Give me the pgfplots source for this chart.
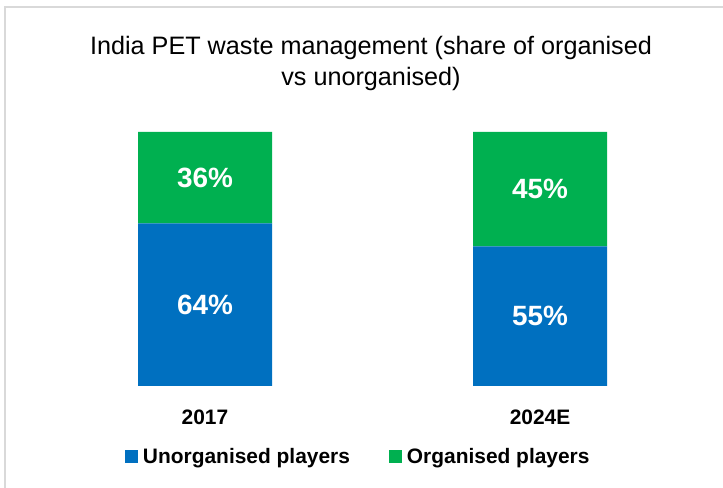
\documentclass[border=0pt]{standalone}
\usepackage{pgfplots}
\pgfplotsset{compat=1.18}
\usepackage{pgfplotstable}
\usepackage{fontspec}
\setmainfont{Liberation Sans}
\definecolor{cblue}{HTML}{0070C0}
\definecolor{cgreen}{HTML}{00B050}
\definecolor{frame}{HTML}{D9D9D9}
\pgfplotstableread{
x v
0 64
1 55
}\unorg
\pgfplotstableread{
x v
0 36
1 45
}\org
\begin{document}
\begin{tikzpicture}[x=1bp,y=1bp]
\useasboundingbox (0,0) rectangle (723,488);
\fill[white] (0,0) rectangle (723,488);
\draw[frame, line width=1.2bp] (5,0) -- (5,481) -- (723,481);
\node[anchor=base, inner sep=0pt, font=\fontsize{25.3}{30}\selectfont] at (371,433) {India PET waste management (share of organised};
\node[anchor=base, inner sep=0pt, font=\fontsize{25.3}{30}\selectfont] at (371,402) {vs unorganised)};
\begin{axis}[
  at={(37.5bp,102bp)}, anchor=south west,
  scale only axis, width=670bp, height=254bp,
  xmin=-0.5, xmax=1.5, ymin=0, ymax=100,
  ybar stacked, bar width=134bp,
  axis line style={draw=none},
  ytick=\empty, xtick={0,1}, xticklabels={2017,2024E}, major tick length=0pt,
  xticklabel style={font=\bfseries\fontsize{21}{25}\selectfont, inner sep=0pt, yshift=-24bp},
  /pgf/number format/assume math mode=true,
  nodes near coords={\pgfmathprintnumber{\pgfplotspointmeta}\%},
  nodes near coords style={font=\bfseries\fontsize{28}{32}\selectfont, text=white, anchor=center},
  legend style={draw=none, fill=none, legend columns=2, at={(0.1306,-0.2795)}, anchor=west, inner sep=0pt, outer sep=0pt,
    font=\bfseries\fontsize{21}{25}\selectfont, column sep=3bp,
    /tikz/every even column/.append style={column sep=37bp}},
  legend image code/.code={\fill[#1] (0bp,-6.5bp) rectangle (13bp,6.5bp);},
  clip=false,
]
\addplot[fill=cblue, draw=none, point meta=explicit] table[x=x,y=v,meta=v]{\unorg};
\addplot[fill=cgreen, draw=none, point meta=explicit] table[x=x,y=v,meta=v]{\org};
\legend{Unorganised players, Organised players}
\end{axis}
\end{tikzpicture}
\end{document}
